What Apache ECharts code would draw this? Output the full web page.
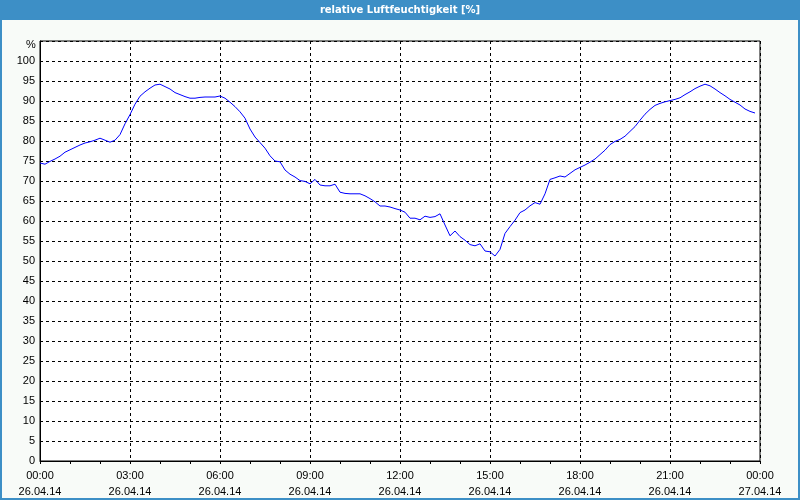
<!DOCTYPE html>
<html>
<head>
<meta charset="utf-8">
<script src="https://cdn.jsdelivr.net/npm/echarts@6/dist/echarts.min.js"></script>
<style>
html,body{margin:0;padding:0;background:#f8fbf8;}
#chart{width:800px;height:500px;}
</style>
</head>
<body>
<div id="chart"></div>
<script>
// Data: relative humidity [%], 10-minute steps starting 26.04.14 00:00
const chartTitle = 'relative Luftfeuchtigkeit [%]';
const yUnit = '%';
const stepMinutes = 10;
const humidity = [
  74.5, 74.2, 74.9, 75.5, 76.2, 77.2, 77.8, 78.4, 79.0, 79.5, 79.8, 80.2,
  80.7, 80.2, 79.7, 80.2, 81.6, 84.3, 86.6, 89.2, 91.2, 92.3, 93.2, 94.0,
  94.2, 93.6, 93.0, 92.1, 91.6, 91.1, 90.7, 90.7, 90.9, 91.0, 91.0, 91.0,
  91.25, 90.7, 89.7, 88.6, 87.3, 85.7, 83.0, 81.0, 79.6, 78.2, 76.3, 75.0,
  74.8, 72.75, 71.7, 71.0, 70.1, 69.9, 69.3, 70.4, 69.0, 68.8, 68.8, 69.2,
  67.2, 66.9, 66.8, 66.8, 66.8, 66.3, 65.6, 64.8, 63.75, 63.75, 63.5, 63.1,
  62.75, 62.2, 60.7, 60.7, 60.3, 61.2, 60.9, 61.1, 61.8, 59.0, 56.3, 57.5,
  56.1, 55.2, 54.1, 53.8, 54.3, 52.5, 52.3, 51.25, 52.9, 56.9, 58.6, 60.2,
  62.1, 62.75, 63.8, 64.6, 64.2, 66.8, 70.4, 70.8, 71.25, 71.0, 71.9, 72.8,
  73.4, 74.0, 74.7, 75.5, 76.6, 77.7, 79.1, 79.9, 80.4, 81.2, 82.4, 83.6,
  85.2, 86.7, 87.9, 88.9, 89.4, 89.8, 90.1, 90.4, 90.8, 91.6, 92.3, 93.1,
  93.7, 94.2, 93.8, 93.0, 92.1, 91.3, 90.4, 89.7, 89.0, 88.0, 87.4, 87.0
];
const xTickTimes = ['00:00','03:00','06:00','09:00','12:00','15:00','18:00','21:00','00:00'];
const xTickDates = ['26.04.14','26.04.14','26.04.14','26.04.14','26.04.14','26.04.14','26.04.14','26.04.14','27.04.14'];

const seriesData = humidity.map((v, i) => [i * stepMinutes, v]);
const font = 'Liberation Sans';

const chart = echarts.init(document.getElementById('chart'), null, {renderer: 'canvas'});
chart.setOption({
  animation: false,
  backgroundColor: '#f8fbf8',
  title: {
    text: chartTitle,
    left: 'center',
    top: 3,
    padding: 0,
    textStyle: {color: '#ffffff', fontFamily: 'DejaVu Sans', fontWeight: 'bold', fontSize: 10, lineHeight: 14}
  },
  graphic: [
    {type: 'rect', z: -10, silent: true, shape: {x: 0, y: 0, width: 800, height: 20}, style: {fill: '#3d8fc6'}},
    {type: 'rect', z: 100, silent: true, shape: {x: 1, y: 1, width: 798, height: 498}, style: {fill: 'none', stroke: '#3d8fc6', lineWidth: 2}},
    {type: 'text', silent: true, left: 26, top: 39, style: {text: yUnit, fill: '#000', font: '11px "Liberation Sans"'}}
  ],
  grid: {
    left: 40, top: 41, width: 720, height: 420,
    show: true, backgroundColor: '#ffffff', borderColor: '#000000', borderWidth: 1
  },
  xAxis: {
    type: 'value',
    min: 0, max: 1440, interval: 180,
    axisLine: {show: true, lineStyle: {color: '#000', width: 1}},
    axisTick: {show: true, length: 3, lineStyle: {color: '#000'}},
    minorTick: {show: true, splitNumber: 3, length: 3, lineStyle: {color: '#000'}},
    splitLine: {show: true, lineStyle: {color: '#000', type: [3, 3], width: 1}},
    axisLabel: {
      color: '#000', fontFamily: font, fontSize: 11, lineHeight: 16, margin: 7,
      formatter: function (v) {
        const k = Math.round(v / 180);
        return xTickTimes[k] + '\n' + xTickDates[k];
      }
    }
  },
  yAxis: {
    type: 'value',
    min: 0, max: 105, interval: 5,
    axisLine: {show: true, lineStyle: {color: '#000', width: 1}},
    axisTick: {show: false},
    splitLine: {show: true, lineStyle: {color: '#000', type: [3, 3], width: 1}},
    axisLabel: {
      color: '#000', fontFamily: font, fontSize: 11, margin: 5,
      formatter: function (v) { return v > 100 ? '' : String(v); }
    }
  },
  series: [{
    type: 'line',
    data: seriesData,
    showSymbol: false,
    symbol: 'none',
    lineStyle: {color: '#0000ff', width: 1},
    z: 5
  }]
});
</script>
</body>
</html>
